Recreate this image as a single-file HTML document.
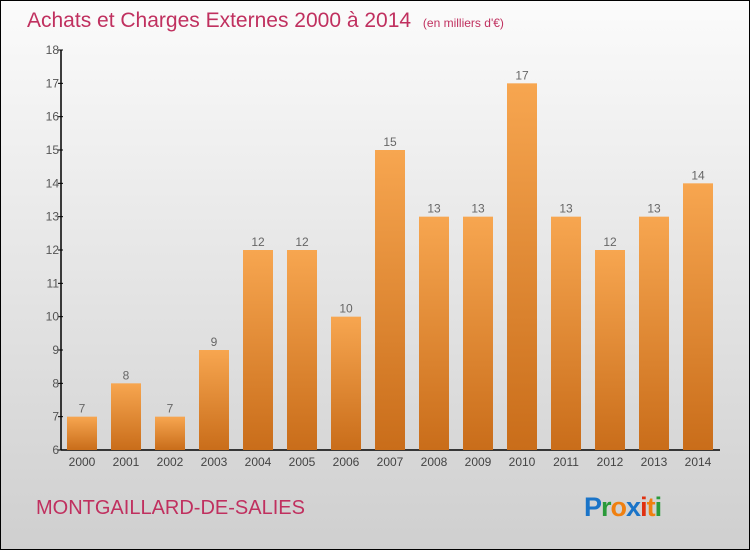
<!DOCTYPE html>
<html><head><meta charset="utf-8"><style>
body{margin:0;}
#c{width:750px;height:550px;position:relative;}
text{font-family:"Liberation Sans",sans-serif;}
</style></head><body>
<div id="c">
<svg id="svg" width="750" height="550" xmlns="http://www.w3.org/2000/svg">
<defs>
<linearGradient id="bg" x1="0" y1="0" x2="0" y2="1"><stop offset="0" stop-color="#fbfbfb"/><stop offset="1" stop-color="#cfcfcf"/></linearGradient>
<linearGradient id="bar" x1="0" y1="0" x2="0" y2="1"><stop offset="0" stop-color="#f7a650"/><stop offset="1" stop-color="#c96d1a"/></linearGradient>
</defs>
<rect x="0.5" y="0.5" width="749" height="549" fill="url(#bg)" stroke="#000"/>
<text x="27" y="27" font-size="21" fill="#c0305f">Achats et Charges Externes 2000 à 2014 <tspan font-size="12" dx="6">(en milliers d'€)</tspan></text>
<g id="axes"></g>
<g id="bars"></g>
<text x="36" y="514" font-size="20" fill="#c0305f">MONTGAILLARD-DE-SALIES</text>
<text x="584" y="516" font-size="27" font-weight="bold" letter-spacing="-1"><tspan fill="#1a74c8">P</tspan><tspan fill="#2a9a3a">r</tspan><tspan fill="#f08010">o</tspan><tspan fill="#1a74c8">x</tspan><tspan fill="#e03010">i</tspan><tspan fill="#f08010">t</tspan><tspan fill="#2a9a3a">i</tspan></text>
</svg>
</div>
<script>
const categories=["2000","2001","2002","2003","2004","2005","2006","2007","2008","2009","2010","2011","2012","2013","2014"];
const values=[7,8,7,9,12,12,10,15,13,13,17,13,12,13,14];
const yTicks=[6,7,8,9,10,11,12,13,14,15,16,17,18];
const NS="http://www.w3.org/2000/svg";
const yMin=6,yMax=18,plotTop=50,plotBot=450,axisX=61;
function yPos(v){return plotBot-(v-yMin)/(yMax-yMin)*(plotBot-plotTop);}
function xc(i){return 82+i*44;}
function mk(t,a,p){const e=document.createElementNS(NS,t);for(const k in a)e.setAttribute(k,a[k]);p.appendChild(e);return e;}
const ax=document.getElementById('axes'),bg=document.getElementById('bars');
const yl=mk('line',{x1:axisX,y1:plotTop,x2:axisX,y2:plotBot,stroke:'#000','stroke-width':1.5},ax);


const xl=mk('line',{x1:axisX,y1:plotBot,x2:720,y2:plotBot,stroke:'#000','stroke-width':1.5},ax);


yTicks.forEach(v=>{
 const tk=mk('line',{x1:axisX-3,y1:yPos(v),x2:axisX+2,y2:yPos(v),stroke:'#000'},ax);
 
 
 const t=mk('text',{x:axisX-2,y:yPos(v)+4,'font-size':12,fill:'#555','text-anchor':'end'},ax);
 t.textContent=v;
 
 
});
categories.forEach((c,i)=>{
 const r=mk('rect',{x:xc(i)-15,y:yPos(values[i]),width:30,height:plotBot-yPos(values[i]),fill:'url(#bar)'},bg);
 
 
 const l=mk('text',{x:xc(i),y:yPos(values[i])-4,'font-size':12,fill:'#666','text-anchor':'middle'},bg);
 l.textContent=values[i];
 
 
 const xlab=mk('text',{x:xc(i),y:466,'font-size':12,fill:'#444','text-anchor':'middle'},ax);
 xlab.textContent=c;
 
 
});
</script>
</body></html>
